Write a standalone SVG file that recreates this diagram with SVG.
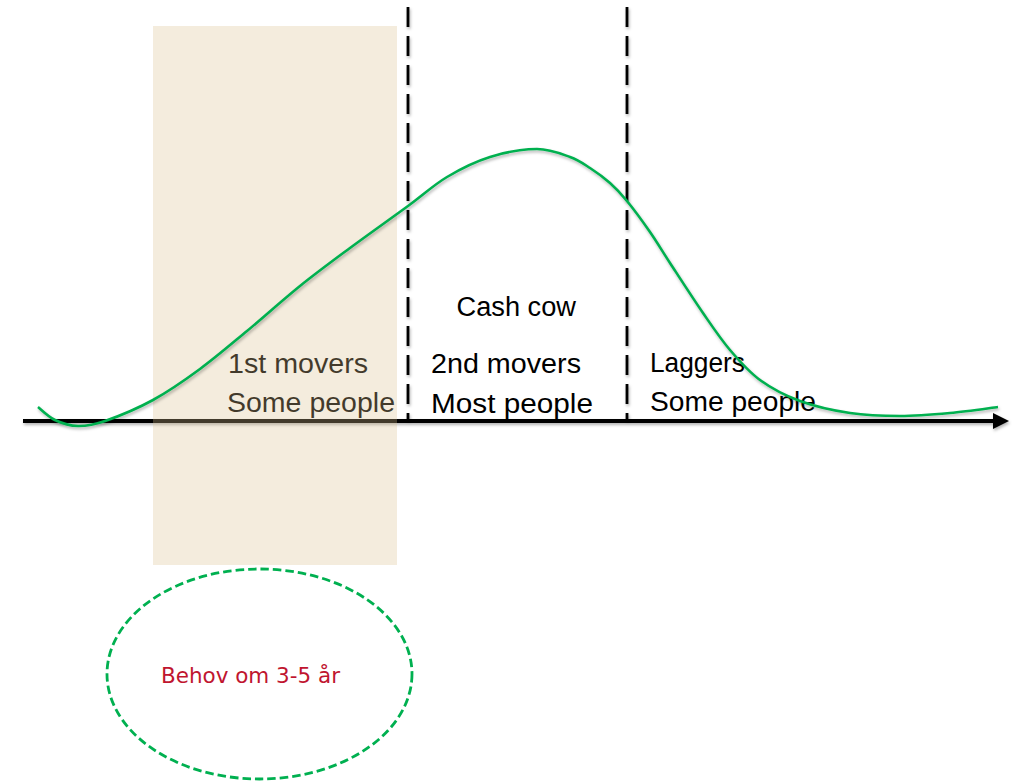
<svg xmlns="http://www.w3.org/2000/svg" width="1017" height="781" viewBox="0 0 1017 781">
  <style>
    .lbl { font-family: "Liberation Sans", Arial, sans-serif; font-size: 27px; fill: #000; }
    .dash { stroke: #000; stroke-width: 2.8; stroke-dasharray: 20 9; fill: none; }
    .red { font-family: "DejaVu Sans", Verdana, sans-serif; font-size: 21.5px; fill: #c0152f; }
  </style>
  <defs>
    <filter id="shadow" filterUnits="userSpaceOnUse" x="0" y="0" width="1017" height="781">
      <feDropShadow dx="1" dy="2" stdDeviation="1.5" flood-color="#000" flood-opacity="0.3"/>
    </filter>
    <marker id="arrow" viewBox="0 0 16 16" refX="2" refY="8" markerWidth="16" markerHeight="16" markerUnits="userSpaceOnUse" orient="auto">
      <path d="M0,0 L16,8 L0,16 Z" fill="#000"/>
    </marker>
  </defs>
  <rect width="1017" height="781" fill="#fff"/>

  <g id="connectors">
    <line id="axis" x1="23" y1="421" x2="995" y2="421" stroke="#000" stroke-width="4" marker-end="url(#arrow)" filter="url(#shadow)"/>
    <line id="divider1" class="dash" x1="408" y1="7" x2="408" y2="420" filter="url(#shadow)"/>
    <line id="divider2" class="dash" x1="627" y1="7" x2="627" y2="420" filter="url(#shadow)"/>
  </g>

  <g id="label-cashcow">
    <text class="lbl" x="456.5" y="316" textLength="119.5" lengthAdjust="spacingAndGlyphs">Cash cow</text>
  </g>
  <g id="label-1st">
    <text class="lbl" x="228" y="373" textLength="140" lengthAdjust="spacingAndGlyphs">1st movers</text>
    <text class="lbl" x="227" y="412" textLength="168" lengthAdjust="spacingAndGlyphs">Some people</text>
  </g>
  <g id="label-2nd">
    <text class="lbl" x="431" y="372.7" textLength="150" lengthAdjust="spacingAndGlyphs">2nd movers</text>
    <text class="lbl" x="431" y="412.7" textLength="162" lengthAdjust="spacingAndGlyphs">Most people</text>
  </g>
  <g id="label-laggers">
    <text class="lbl" x="650" y="371.7" textLength="95" lengthAdjust="spacingAndGlyphs">Laggers</text>
    <text class="lbl" x="650" y="411" textLength="166" lengthAdjust="spacingAndGlyphs">Some people</text>
  </g>

  <g id="highlight-region">
    <rect x="153" y="26" width="244" height="539" fill="#dcbf8d" fill-opacity="0.3"/>
  </g>

  <g id="curve-group">
    <path id="curve" fill="none" stroke="#00b050" stroke-width="2.6" filter="url(#shadow)"
      d="M38,407 C40.83,409.17 48.33,416.83 55,420 C61.67,423.17 69.67,425.83 78,426 C86.33,426.17 92.5,425.33 105,421 C117.5,416.67 137.17,408.67 153,400 C168.83,391.33 184.33,380.5 200,369 C215.67,357.5 230.33,344.83 247,331 C263.67,317.17 282.83,299.83 300,286 C317.17,272.17 332,261.33 350,248 C368,234.67 391.83,217.83 408,206 C424.17,194.17 433.33,185.17 447,177 C460.67,168.83 475,161.67 490,157 C505,152.33 523.67,149 537,149 C550.33,149 561.17,153.83 570,157 C578.83,160.17 583.33,163.67 590,168 C596.67,172.33 603.83,177.5 610,183 C616.17,188.5 620.33,192.83 627,201 C633.67,209.17 642.83,221.67 650,232 C657.17,242.33 661.17,249.5 670,263 C678.83,276.5 693,298.5 703,313 C713,327.5 720.5,338.83 730,350 C739.5,361.17 748.33,371.5 760,380 C771.67,388.5 785,395.5 800,401 C815,406.5 833.33,410.5 850,413 C866.67,415.5 883.33,416 900,416 C916.67,416 933.67,414.5 950,413 C966.33,411.5 990,408 998,407"/>
  </g>

  <g id="need-ellipse">
    <ellipse cx="259.5" cy="674" rx="152.5" ry="105" fill="none" stroke="#00b050" stroke-width="2.8" stroke-dasharray="8.5 4"/>
    <text class="red" x="161" y="683.3" textLength="179" lengthAdjust="spacingAndGlyphs">Behov om 3-5 år</text>
  </g>
</svg>
